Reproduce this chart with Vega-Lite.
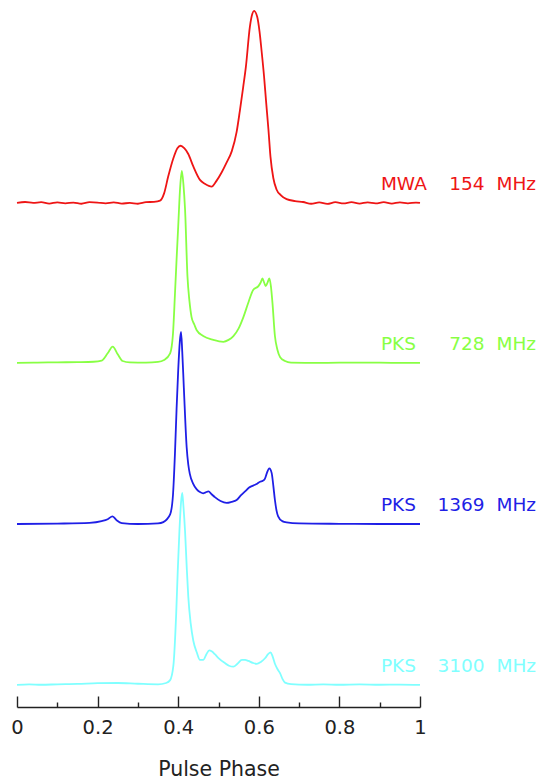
{
  "$schema": "https://vega.github.io/schema/vega-lite/v6.json",
  "autosize": {"type": "none"},
  "padding": {"left": 17, "top": 0, "right": 119, "bottom": 73},
  "width": 403,
  "height": 707,
  "background": "white",
  "config": {"view": {"stroke": null}},
  "datasets": {
    "profiles": [
      {"band": "MWA", "phase": 0.0, "flux": 0.0},
      {"band": "MWA", "phase": 0.02, "flux": 0.005},
      {"band": "MWA", "phase": 0.04, "flux": 0.0},
      {"band": "MWA", "phase": 0.06, "flux": 0.004},
      {"band": "MWA", "phase": 0.08, "flux": -0.003},
      {"band": "MWA", "phase": 0.1, "flux": 0.003},
      {"band": "MWA", "phase": 0.12, "flux": -0.002},
      {"band": "MWA", "phase": 0.14, "flux": 0.002},
      {"band": "MWA", "phase": 0.16, "flux": -0.004},
      {"band": "MWA", "phase": 0.18, "flux": 0.004},
      {"band": "MWA", "phase": 0.2, "flux": 0.002},
      {"band": "MWA", "phase": 0.22, "flux": -0.002},
      {"band": "MWA", "phase": 0.24, "flux": 0.003},
      {"band": "MWA", "phase": 0.26, "flux": -0.003},
      {"band": "MWA", "phase": 0.28, "flux": 0.0},
      {"band": "MWA", "phase": 0.3, "flux": -0.004},
      {"band": "MWA", "phase": 0.32, "flux": 0.004},
      {"band": "MWA", "phase": 0.34, "flux": 0.006},
      {"band": "MWA", "phase": 0.355, "flux": 0.012},
      {"band": "MWA", "phase": 0.365, "flux": 0.05},
      {"band": "MWA", "phase": 0.375, "flux": 0.136},
      {"band": "MWA", "phase": 0.388, "flux": 0.233},
      {"band": "MWA", "phase": 0.398, "flux": 0.285},
      {"band": "MWA", "phase": 0.406, "flux": 0.298},
      {"band": "MWA", "phase": 0.415, "flux": 0.285},
      {"band": "MWA", "phase": 0.425, "flux": 0.255},
      {"band": "MWA", "phase": 0.4375, "flux": 0.19},
      {"band": "MWA", "phase": 0.454, "flux": 0.12},
      {"band": "MWA", "phase": 0.466, "flux": 0.1},
      {"band": "MWA", "phase": 0.483, "flux": 0.085},
      {"band": "MWA", "phase": 0.495, "flux": 0.115},
      {"band": "MWA", "phase": 0.508, "flux": 0.16},
      {"band": "MWA", "phase": 0.52, "flux": 0.21},
      {"band": "MWA", "phase": 0.533, "flux": 0.27},
      {"band": "MWA", "phase": 0.545, "flux": 0.37},
      {"band": "MWA", "phase": 0.553, "flux": 0.48},
      {"band": "MWA", "phase": 0.561, "flux": 0.6},
      {"band": "MWA", "phase": 0.568, "flux": 0.71},
      {"band": "MWA", "phase": 0.578, "flux": 0.92},
      {"band": "MWA", "phase": 0.584, "flux": 0.985},
      {"band": "MWA", "phase": 0.588, "flux": 1.0},
      {"band": "MWA", "phase": 0.596, "flux": 0.97},
      {"band": "MWA", "phase": 0.602, "flux": 0.89},
      {"band": "MWA", "phase": 0.607, "flux": 0.79},
      {"band": "MWA", "phase": 0.613, "flux": 0.66},
      {"band": "MWA", "phase": 0.618, "flux": 0.53},
      {"band": "MWA", "phase": 0.624, "flux": 0.38},
      {"band": "MWA", "phase": 0.629, "flux": 0.24},
      {"band": "MWA", "phase": 0.636, "flux": 0.13},
      {"band": "MWA", "phase": 0.644, "flux": 0.07},
      {"band": "MWA", "phase": 0.655, "flux": 0.04},
      {"band": "MWA", "phase": 0.669, "flux": 0.02},
      {"band": "MWA", "phase": 0.69, "flux": 0.01},
      {"band": "MWA", "phase": 0.71, "flux": 0.005},
      {"band": "MWA", "phase": 0.73, "flux": -0.004},
      {"band": "MWA", "phase": 0.75, "flux": 0.003},
      {"band": "MWA", "phase": 0.77, "flux": -0.005},
      {"band": "MWA", "phase": 0.79, "flux": 0.004},
      {"band": "MWA", "phase": 0.81, "flux": -0.002},
      {"band": "MWA", "phase": 0.83, "flux": 0.004},
      {"band": "MWA", "phase": 0.85, "flux": -0.003},
      {"band": "MWA", "phase": 0.87, "flux": 0.003},
      {"band": "MWA", "phase": 0.89, "flux": -0.002},
      {"band": "MWA", "phase": 0.91, "flux": 0.004},
      {"band": "MWA", "phase": 0.93, "flux": -0.003},
      {"band": "MWA", "phase": 0.95, "flux": 0.003},
      {"band": "MWA", "phase": 0.97, "flux": -0.002},
      {"band": "MWA", "phase": 0.99, "flux": 0.002},
      {"band": "MWA", "phase": 1.0, "flux": 0.0},

      {"band": "PKS728", "phase": 0.0, "flux": 0.0},
      {"band": "PKS728", "phase": 0.05, "flux": 0.002},
      {"band": "PKS728", "phase": 0.1, "flux": 0.003},
      {"band": "PKS728", "phase": 0.15, "flux": 0.004},
      {"band": "PKS728", "phase": 0.19, "flux": 0.006},
      {"band": "PKS728", "phase": 0.21, "flux": 0.012},
      {"band": "PKS728", "phase": 0.225, "flux": 0.05},
      {"band": "PKS728", "phase": 0.2375, "flux": 0.085},
      {"band": "PKS728", "phase": 0.25, "flux": 0.045},
      {"band": "PKS728", "phase": 0.262, "flux": 0.01},
      {"band": "PKS728", "phase": 0.28, "flux": 0.003},
      {"band": "PKS728", "phase": 0.32, "flux": 0.002},
      {"band": "PKS728", "phase": 0.35, "flux": 0.005},
      {"band": "PKS728", "phase": 0.365, "flux": 0.015},
      {"band": "PKS728", "phase": 0.38, "flux": 0.05},
      {"band": "PKS728", "phase": 0.387, "flux": 0.15},
      {"band": "PKS728", "phase": 0.392, "flux": 0.36},
      {"band": "PKS728", "phase": 0.396, "flux": 0.54},
      {"band": "PKS728", "phase": 0.4, "flux": 0.71},
      {"band": "PKS728", "phase": 0.405, "flux": 0.92},
      {"band": "PKS728", "phase": 0.409, "flux": 1.0},
      {"band": "PKS728", "phase": 0.413, "flux": 0.93},
      {"band": "PKS728", "phase": 0.417, "flux": 0.8},
      {"band": "PKS728", "phase": 0.423, "flux": 0.45},
      {"band": "PKS728", "phase": 0.428, "flux": 0.32},
      {"band": "PKS728", "phase": 0.433, "flux": 0.24},
      {"band": "PKS728", "phase": 0.44, "flux": 0.2},
      {"band": "PKS728", "phase": 0.446, "flux": 0.17},
      {"band": "PKS728", "phase": 0.462, "flux": 0.14},
      {"band": "PKS728", "phase": 0.487, "flux": 0.12},
      {"band": "PKS728", "phase": 0.512, "flux": 0.11},
      {"band": "PKS728", "phase": 0.525, "flux": 0.12},
      {"band": "PKS728", "phase": 0.537, "flux": 0.14},
      {"band": "PKS728", "phase": 0.55, "flux": 0.18},
      {"band": "PKS728", "phase": 0.562, "flux": 0.24},
      {"band": "PKS728", "phase": 0.575, "flux": 0.32},
      {"band": "PKS728", "phase": 0.586, "flux": 0.38},
      {"band": "PKS728", "phase": 0.599, "flux": 0.4},
      {"band": "PKS728", "phase": 0.605, "flux": 0.42},
      {"band": "PKS728", "phase": 0.609, "flux": 0.44},
      {"band": "PKS728", "phase": 0.613, "flux": 0.42},
      {"band": "PKS728", "phase": 0.617, "flux": 0.4},
      {"band": "PKS728", "phase": 0.622, "flux": 0.42},
      {"band": "PKS728", "phase": 0.626, "flux": 0.44},
      {"band": "PKS728", "phase": 0.63, "flux": 0.4},
      {"band": "PKS728", "phase": 0.634, "flux": 0.31},
      {"band": "PKS728", "phase": 0.64, "flux": 0.14},
      {"band": "PKS728", "phase": 0.646, "flux": 0.07},
      {"band": "PKS728", "phase": 0.653, "flux": 0.03},
      {"band": "PKS728", "phase": 0.665, "flux": 0.01},
      {"band": "PKS728", "phase": 0.68, "flux": 0.002},
      {"band": "PKS728", "phase": 0.75, "flux": 0.0},
      {"band": "PKS728", "phase": 0.85, "flux": 0.002},
      {"band": "PKS728", "phase": 0.95, "flux": 0.0},
      {"band": "PKS728", "phase": 1.0, "flux": 0.0},

      {"band": "PKS1369", "phase": 0.0, "flux": 0.0},
      {"band": "PKS1369", "phase": 0.1, "flux": 0.002},
      {"band": "PKS1369", "phase": 0.18, "flux": 0.006},
      {"band": "PKS1369", "phase": 0.21, "flux": 0.015},
      {"band": "PKS1369", "phase": 0.225, "flux": 0.025},
      {"band": "PKS1369", "phase": 0.237, "flux": 0.04},
      {"band": "PKS1369", "phase": 0.248, "flux": 0.018},
      {"band": "PKS1369", "phase": 0.26, "flux": 0.005},
      {"band": "PKS1369", "phase": 0.3, "flux": 0.0},
      {"band": "PKS1369", "phase": 0.35, "flux": 0.003},
      {"band": "PKS1369", "phase": 0.363, "flux": 0.01},
      {"band": "PKS1369", "phase": 0.38, "flux": 0.05},
      {"band": "PKS1369", "phase": 0.387, "flux": 0.15},
      {"band": "PKS1369", "phase": 0.392, "flux": 0.37},
      {"band": "PKS1369", "phase": 0.396, "flux": 0.6},
      {"band": "PKS1369", "phase": 0.4, "flux": 0.8},
      {"band": "PKS1369", "phase": 0.404, "flux": 0.95},
      {"band": "PKS1369", "phase": 0.407, "flux": 1.0},
      {"band": "PKS1369", "phase": 0.41, "flux": 0.9},
      {"band": "PKS1369", "phase": 0.414, "flux": 0.71},
      {"band": "PKS1369", "phase": 0.421, "flux": 0.4},
      {"band": "PKS1369", "phase": 0.425, "flux": 0.31},
      {"band": "PKS1369", "phase": 0.429, "flux": 0.26},
      {"band": "PKS1369", "phase": 0.437, "flux": 0.21},
      {"band": "PKS1369", "phase": 0.446, "flux": 0.18},
      {"band": "PKS1369", "phase": 0.455, "flux": 0.165},
      {"band": "PKS1369", "phase": 0.462, "flux": 0.16},
      {"band": "PKS1369", "phase": 0.468, "flux": 0.165},
      {"band": "PKS1369", "phase": 0.475, "flux": 0.17},
      {"band": "PKS1369", "phase": 0.483, "flux": 0.155},
      {"band": "PKS1369", "phase": 0.491, "flux": 0.14},
      {"band": "PKS1369", "phase": 0.505, "flux": 0.12},
      {"band": "PKS1369", "phase": 0.52, "flux": 0.11},
      {"band": "PKS1369", "phase": 0.532, "flux": 0.115},
      {"band": "PKS1369", "phase": 0.545, "flux": 0.125},
      {"band": "PKS1369", "phase": 0.556, "flux": 0.15},
      {"band": "PKS1369", "phase": 0.566, "flux": 0.17},
      {"band": "PKS1369", "phase": 0.576, "flux": 0.19},
      {"band": "PKS1369", "phase": 0.586, "flux": 0.2},
      {"band": "PKS1369", "phase": 0.596, "flux": 0.21},
      {"band": "PKS1369", "phase": 0.603, "flux": 0.22},
      {"band": "PKS1369", "phase": 0.61, "flux": 0.225},
      {"band": "PKS1369", "phase": 0.615, "flux": 0.235},
      {"band": "PKS1369", "phase": 0.62, "flux": 0.265},
      {"band": "PKS1369", "phase": 0.626, "flux": 0.29},
      {"band": "PKS1369", "phase": 0.632, "flux": 0.265},
      {"band": "PKS1369", "phase": 0.636, "flux": 0.2},
      {"band": "PKS1369", "phase": 0.64, "flux": 0.125},
      {"band": "PKS1369", "phase": 0.644, "flux": 0.07},
      {"band": "PKS1369", "phase": 0.648, "flux": 0.04},
      {"band": "PKS1369", "phase": 0.658, "flux": 0.015},
      {"band": "PKS1369", "phase": 0.669, "flux": 0.008},
      {"band": "PKS1369", "phase": 0.7, "flux": 0.003},
      {"band": "PKS1369", "phase": 0.8, "flux": 0.001},
      {"band": "PKS1369", "phase": 0.9, "flux": 0.0},
      {"band": "PKS1369", "phase": 1.0, "flux": 0.0},

      {"band": "PKS3100", "phase": 0.0, "flux": 0.0},
      {"band": "PKS3100", "phase": 0.03, "flux": 0.003},
      {"band": "PKS3100", "phase": 0.06, "flux": 0.001},
      {"band": "PKS3100", "phase": 0.1, "flux": 0.003},
      {"band": "PKS3100", "phase": 0.15, "flux": 0.005},
      {"band": "PKS3100", "phase": 0.2, "flux": 0.009},
      {"band": "PKS3100", "phase": 0.25, "flux": 0.01},
      {"band": "PKS3100", "phase": 0.3, "flux": 0.006},
      {"band": "PKS3100", "phase": 0.35, "flux": 0.003},
      {"band": "PKS3100", "phase": 0.37, "flux": 0.01},
      {"band": "PKS3100", "phase": 0.38, "flux": 0.025},
      {"band": "PKS3100", "phase": 0.388, "flux": 0.1},
      {"band": "PKS3100", "phase": 0.395, "flux": 0.37},
      {"band": "PKS3100", "phase": 0.399, "flux": 0.6},
      {"band": "PKS3100", "phase": 0.403, "flux": 0.8},
      {"band": "PKS3100", "phase": 0.407, "flux": 0.95},
      {"band": "PKS3100", "phase": 0.41, "flux": 1.0},
      {"band": "PKS3100", "phase": 0.413, "flux": 0.93},
      {"band": "PKS3100", "phase": 0.417, "flux": 0.8},
      {"band": "PKS3100", "phase": 0.421, "flux": 0.62},
      {"band": "PKS3100", "phase": 0.425, "flux": 0.46},
      {"band": "PKS3100", "phase": 0.431, "flux": 0.32},
      {"band": "PKS3100", "phase": 0.4375, "flux": 0.23},
      {"band": "PKS3100", "phase": 0.446, "flux": 0.17},
      {"band": "PKS3100", "phase": 0.454, "flux": 0.13},
      {"band": "PKS3100", "phase": 0.462, "flux": 0.13},
      {"band": "PKS3100", "phase": 0.47, "flux": 0.16},
      {"band": "PKS3100", "phase": 0.477, "flux": 0.18},
      {"band": "PKS3100", "phase": 0.483, "flux": 0.175},
      {"band": "PKS3100", "phase": 0.491, "flux": 0.16},
      {"band": "PKS3100", "phase": 0.5, "flux": 0.14},
      {"band": "PKS3100", "phase": 0.515, "flux": 0.115},
      {"band": "PKS3100", "phase": 0.526, "flux": 0.1},
      {"band": "PKS3100", "phase": 0.537, "flux": 0.095},
      {"band": "PKS3100", "phase": 0.547, "flux": 0.11},
      {"band": "PKS3100", "phase": 0.558, "flux": 0.13},
      {"band": "PKS3100", "phase": 0.566, "flux": 0.13},
      {"band": "PKS3100", "phase": 0.574, "flux": 0.125},
      {"band": "PKS3100", "phase": 0.585, "flux": 0.115},
      {"band": "PKS3100", "phase": 0.595, "flux": 0.11},
      {"band": "PKS3100", "phase": 0.605, "flux": 0.12},
      {"band": "PKS3100", "phase": 0.616, "flux": 0.14},
      {"band": "PKS3100", "phase": 0.623, "flux": 0.16},
      {"band": "PKS3100", "phase": 0.629, "flux": 0.17},
      {"band": "PKS3100", "phase": 0.634, "flux": 0.15},
      {"band": "PKS3100", "phase": 0.64, "flux": 0.11},
      {"band": "PKS3100", "phase": 0.647, "flux": 0.08},
      {"band": "PKS3100", "phase": 0.653, "flux": 0.06},
      {"band": "PKS3100", "phase": 0.659, "flux": 0.03},
      {"band": "PKS3100", "phase": 0.665, "flux": 0.012},
      {"band": "PKS3100", "phase": 0.68, "flux": 0.004},
      {"band": "PKS3100", "phase": 0.72, "flux": 0.001},
      {"band": "PKS3100", "phase": 0.76, "flux": 0.003},
      {"band": "PKS3100", "phase": 0.8, "flux": 0.001},
      {"band": "PKS3100", "phase": 0.85, "flux": 0.003},
      {"band": "PKS3100", "phase": 0.9, "flux": 0.001},
      {"band": "PKS3100", "phase": 0.95, "flux": 0.002},
      {"band": "PKS3100", "phase": 1.0, "flux": 0.0}
    ],
    "bands": [
      {"band": "MWA", "telescope": "MWA", "freq": "154"},
      {"band": "PKS728", "telescope": "PKS", "freq": "728"},
      {"band": "PKS1369", "telescope": "PKS", "freq": "1369"},
      {"band": "PKS3100", "telescope": "PKS", "freq": "3100"}
    ]
  },
  "layer": [
    {
      "data": {"name": "profiles"},
      "transform": [
        {"calculate": "{'MWA': 2.625, 'PKS728': 1.792, 'PKS1369': 0.953, 'PKS3100': 0.115}[datum.band]", "as": "offset"},
        {"calculate": "datum.flux + datum.offset", "as": "level"}
      ],
      "mark": {"type": "line", "strokeWidth": 1.8, "interpolate": "monotone"},
      "encoding": {
        "x": {
          "field": "phase",
          "type": "quantitative",
          "scale": {"domain": [0, 1], "nice": false, "zero": false},
          "axis": {
            "title": "Pulse Phase",
            "values": [0, 0.1, 0.2, 0.3, 0.4, 0.5, 0.6, 0.7, 0.8, 0.9, 1],
            "labelExpr": "round(datum.value * 10) % 2 === 0 ? format(datum.value, '~g') : ''",
            "grid": false,
            "domainColor": "#222222",
            "domainWidth": 1.4,
            "tickColor": "#222222",
            "tickWidth": 1.4,
            "tickSize": {"condition": {"test": "round(datum.value * 10) % 2 === 0", "value": -11}, "value": -5},
            "labelFont": "DejaVu Sans",
            "labelFontSize": 19.5,
            "labelColor": "#222222",
            "labelPadding": 22,
            "labelFlush": false,
            "labelOverlap": false,
            "titleFont": "DejaVu Sans",
            "titleFontSize": 20.5,
            "titleFontWeight": "normal",
            "titleColor": "#222222",
            "titlePadding": 17
          }
        },
        "y": {
          "field": "level",
          "type": "quantitative",
          "scale": {"domain": [0, 3.682], "nice": false, "zero": false},
          "axis": null
        },
        "color": {
          "field": "band",
          "type": "nominal",
          "scale": {"domain": ["MWA", "PKS728", "PKS1369", "PKS3100"], "range": ["#ee1515", "#88ff44", "#1f1fe6", "#80ffff"]},
          "legend": null
        },
        "detail": {"field": "band"}
      }
    },
    {
      "data": {"name": "bands"},
      "transform": [
        {"calculate": "{'MWA': 2.625, 'PKS728': 1.792, 'PKS1369': 0.953, 'PKS3100': 0.115}[datum.band] + 0.068", "as": "labelLevel"}
      ],
      "mark": {"type": "text", "align": "left", "baseline": "alphabetic", "font": "DejaVu Sans", "fontSize": 18.5, "clip": false},
      "encoding": {
        "x": {"datum": 0.903, "type": "quantitative"},
        "y": {"field": "labelLevel", "type": "quantitative"},
        "text": {"field": "telescope"},
        "color": {"field": "band", "type": "nominal", "legend": null}
      }
    },
    {
      "data": {"name": "bands"},
      "transform": [
        {"calculate": "{'MWA': 2.625, 'PKS728': 1.792, 'PKS1369': 0.953, 'PKS3100': 0.115}[datum.band] + 0.068", "as": "labelLevel"}
      ],
      "mark": {"type": "text", "align": "right", "baseline": "alphabetic", "font": "DejaVu Sans", "fontSize": 18.5, "clip": false},
      "encoding": {
        "x": {"datum": 1.160, "type": "quantitative"},
        "y": {"field": "labelLevel", "type": "quantitative"},
        "text": {"field": "freq"},
        "color": {"field": "band", "type": "nominal", "legend": null}
      }
    },
    {
      "data": {"name": "bands"},
      "transform": [
        {"calculate": "{'MWA': 2.625, 'PKS728': 1.792, 'PKS1369': 0.953, 'PKS3100': 0.115}[datum.band] + 0.068", "as": "labelLevel"}
      ],
      "mark": {"type": "text", "align": "right", "baseline": "alphabetic", "font": "DejaVu Sans", "fontSize": 18.5, "clip": false},
      "encoding": {
        "x": {"datum": 1.288, "type": "quantitative"},
        "y": {"field": "labelLevel", "type": "quantitative"},
        "text": {"value": "MHz"},
        "color": {"field": "band", "type": "nominal", "legend": null}
      }
    }
  ]
}
